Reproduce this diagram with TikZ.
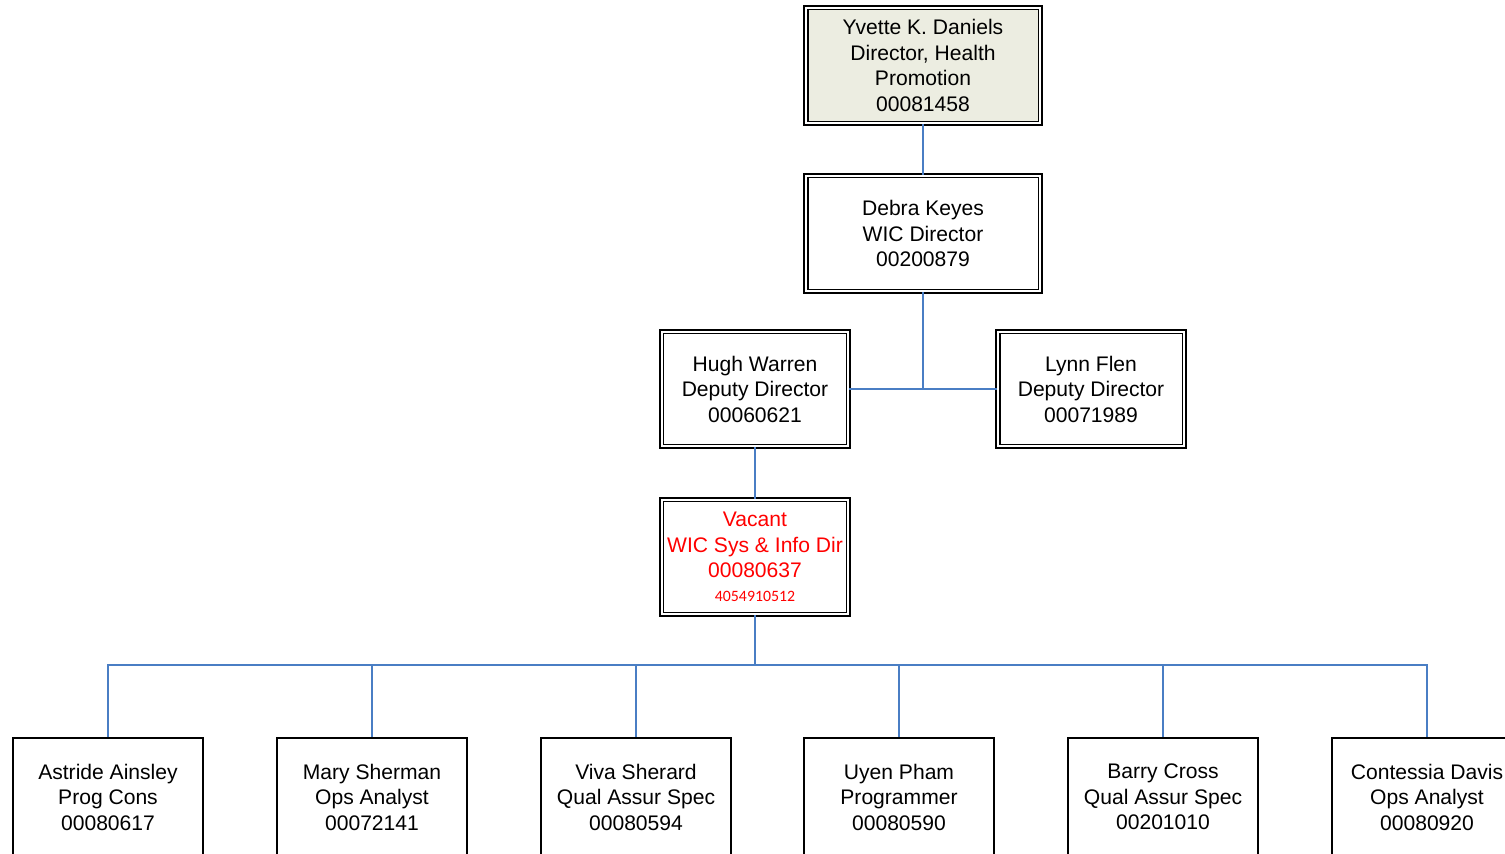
\documentclass[tikz,border=0pt]{standalone}
\usepackage{fontspec}
\setmainfont{Liberation Sans}
\newfontfamily\smallnum{Carlito}
\usepackage{xcolor}
\usepackage{tikz}
\usetikzlibrary{positioning, calc}
\definecolor{linkblue}{HTML}{4A7EC4}
\definecolor{headfill}{HTML}{ECEDE1}
\definecolor{vacantred}{HTML}{FF0000}

\begin{document}
\begin{tikzpicture}[
    x=0.02cm, y=-0.02cm,
    dbox/.style={
        rectangle,
        draw=black,
        double,
        line width=0.9pt,
        double distance=1.3pt,
        minimum width=3.73cm,
        minimum height=2.29cm,
        inner sep=0pt,
        align=center,
        font=\fontsize{12}{14.5}\selectfont
    },
    box/.style={
        rectangle,
        draw=black,
        line width=0.9pt,
        minimum width=3.81cm,
        minimum height=2.37cm,
        inner sep=0pt,
        align=center,
        font=\fontsize{12}{14.5}\selectfont
    },
    myline/.style={
        line width=1.1pt,
        draw=linkblue
    }
]
\useasboundingbox (0,0) rectangle (1505,854);

% top of the chart
\node[dbox, fill=headfill, minimum width=4.69cm, minimum height=2.31cm] (daniels) at (923,65.5)
    {Yvette K. Daniels\\Director, Health\\Promotion\\00081458};
\node[dbox, minimum width=4.69cm, minimum height=2.31cm] (keyes) at (923,233.5)
    {Debra Keyes\\WIC Director\\00200879};

% deputies
\node[dbox] (warren) at (755,389) {Hugh Warren\\Deputy Director\\00060621};
\node[dbox] (flen) at (1091,389) {Lynn Flen\\Deputy Director\\00071989};

% vacant position
\node[dbox, text=vacantred] (vacant) at (755,557)
    {Vacant\\WIC Sys \& Info Dir\\00080637\\[-1pt]{\smallnum\fontsize{9}{10}\selectfont 4054910512}};

% staff row
\node[box] (ainsley) at (108,797) {Astride Ainsley\\Prog Cons\\00080617};
\node[box] (sherman) at (372,797) {Mary Sherman\\Ops Analyst\\00072141};
\node[box] (sherard) at (636,797) {Viva Sherard\\Qual Assur Spec\\00080594};
\node[box] (pham) at (899,797) {Uyen Pham\\Programmer\\00080590};
\node[box] (cross) at (1163,797) {Barry Cross\\Qual Assur Spec\\00201010};
\node[box] (davis) at (1427,797) {Contessia Davis\\Ops Analyst\\00080920};

\coordinate (bus) at (755,665);

\draw[myline] (daniels) -- (keyes);
\draw[myline] (keyes.south) -- (keyes.south |- warren.east);
\draw[myline] (warren.east) -- (flen.west);
\draw[myline] (warren) -- (vacant);
\draw[myline] (vacant.south) -- (bus);
\draw[myline] (ainsley.north) |- (bus) -| (davis.north);
\draw[myline] (sherman.north) -- (sherman.north |- bus);
\draw[myline] (sherard.north) -- (sherard.north |- bus);
\draw[myline] (pham.north) -- (pham.north |- bus);
\draw[myline] (cross.north) -- (cross.north |- bus);

\end{tikzpicture}
\end{document}
